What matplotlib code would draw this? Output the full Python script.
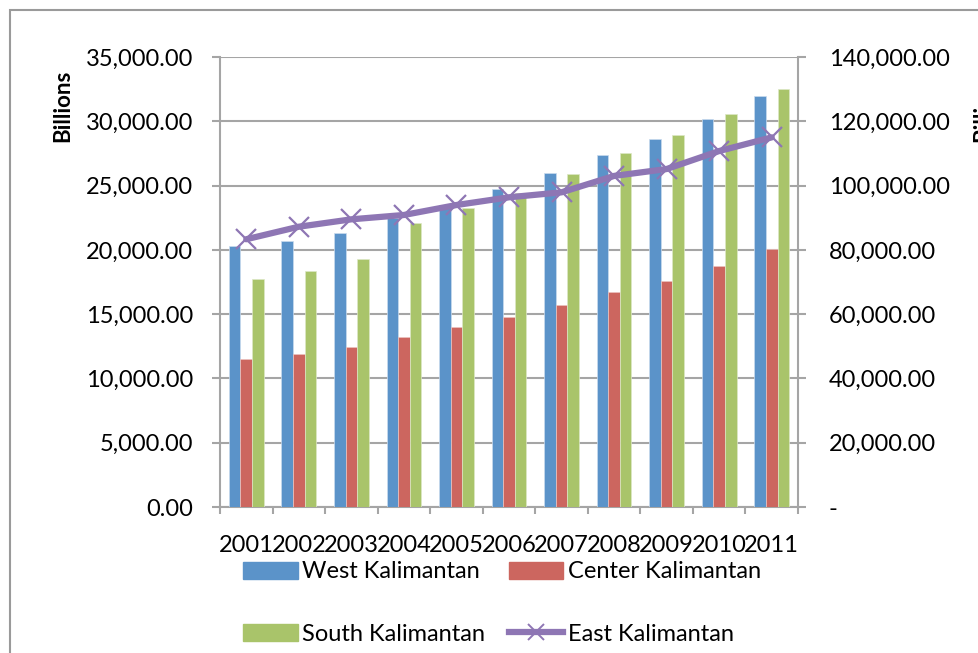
import matplotlib
matplotlib.use("Agg")
import matplotlib.pyplot as plt
import numpy as np
from matplotlib.lines import Line2D
from matplotlib.patches import Patch, Rectangle
from matplotlib.ticker import FuncFormatter, FixedLocator

years = ["2001", "2002", "2003", "2004", "2005", "2006", "2007", "2008", "2009", "2010", "2011"]
west = [20300, 20670, 21340, 22500, 23480, 24700, 25950, 27370, 28650, 30180, 31970]
center = [11510, 11870, 12470, 13220, 14000, 14800, 15690, 16720, 17600, 18770, 20040]
south = [17730, 18380, 19290, 22110, 23230, 24400, 25880, 27510, 28930, 30590, 32490]
east = [83300, 87200, 89500, 90850, 93950, 96350, 97900, 103000, 105150, 110750, 115000]

c_west = "#5B93C9"
c_center = "#CC665F"
c_south = "#A9C46A"
c_east = "#8E76B4"
grid_c = "#A5A5A5"

plt.rcParams["font.family"] = ["Lato", "DejaVu Sans"]
fs = 17

W, H = 979, 653
fig = plt.figure(figsize=(W / 100, H / 100), dpi=100)
ax = fig.add_axes([220 / W, 1 - 507 / H, (798 - 220) / W, (507 - 57) / H])
ax2 = ax.twinx()

x = np.arange(len(years))
bw = 0.22
ax.bar(x - bw, west, bw, color=c_west, edgecolor="#C9DBEE", linewidth=0.5, zorder=3)
ax.bar(x, center, bw, color=c_center, edgecolor="#EBC3C0", linewidth=0.5, zorder=3)
ax.bar(x + bw, south, bw, color=c_south, edgecolor="#DDE8C6", linewidth=0.5, zorder=3)

ax2.plot(x, east, color=c_east, lw=4.5, marker="x", ms=15, mew=1.6, zorder=4,
         solid_capstyle="round")

ax.set_xlim(-0.5, len(years) - 0.5)
ax.set_ylim(0, 35000)
ax2.set_ylim(0, 140000)
ax.set_yticks(np.arange(0, 35001, 5000))
ax2.set_yticks(np.arange(0, 140001, 20000))
ax.yaxis.set_major_formatter(FuncFormatter(lambda v, p: f"{v:,.2f}"))
ax2.yaxis.set_major_formatter(FuncFormatter(lambda v, p: "-" if v == 0 else f"{v:,.2f}"))

ax.set_xticks(x)
ax.set_xticklabels(years)
ax.xaxis.set_minor_locator(FixedLocator(np.arange(-0.5, len(years), 1)))
ax.tick_params(axis="x", which="major", length=0, pad=20, labelsize=fs)
ax.tick_params(axis="x", which="minor", length=5, width=1.5, color=grid_c)
ax.tick_params(axis="y", length=6, width=1.5, color=grid_c, pad=13.5, labelsize=fs)
ax2.tick_params(axis="y", length=6, width=1.5, color=grid_c, pad=16, labelsize=fs)

ax.grid(axis="y", color=grid_c, lw=1.5, zorder=0)
ax.set_axisbelow(True)
for a in (ax, ax2):
    a.spines["top"].set_visible(False)
    for s in ("left", "right", "bottom"):
        a.spines[s].set_color(grid_c)
        a.spines[s].set_linewidth(1.5)
ax.spines["right"].set_visible(False)
ax2.spines["left"].set_visible(False)
ax2.spines["bottom"].set_visible(False)

fig.text(63 / W, 1 - 106 / H, "Billions", rotation=90, ha="center", va="center",
         fontsize=fs - 1, fontweight="bold")
fig.text(983 / W, 1 - 106 / H, "Billions", rotation=90, ha="center", va="center",
         fontsize=fs - 1, fontweight="bold")

handles = [
    Patch(color=c_west),
    Patch(color=c_south),
    Patch(color=c_center),
    Line2D([0], [0], color=c_east, lw=4.5, marker="x", ms=12, mew=1.4),
]
labels = ["West Kalimantan", "South Kalimantan", "Center Kalimantan", "East Kalimantan"]
fig.legend(handles, labels, ncol=2, loc="upper left",
           bbox_to_anchor=(234 / W, 1 - 552 / H), frameon=False, fontsize=fs,
           handlelength=2.3, handleheight=0.75, handletextpad=0.2,
           columnspacing=1.0, labelspacing=1.75, borderaxespad=0)

fig.patches.append(Rectangle((10 / W, -0.1), 1.2, 1.1 - 10 / H, transform=fig.transFigure,
                             fill=False, edgecolor="#9A9A9A", lw=1.5))

fig.savefig("out.png", dpi=100)
